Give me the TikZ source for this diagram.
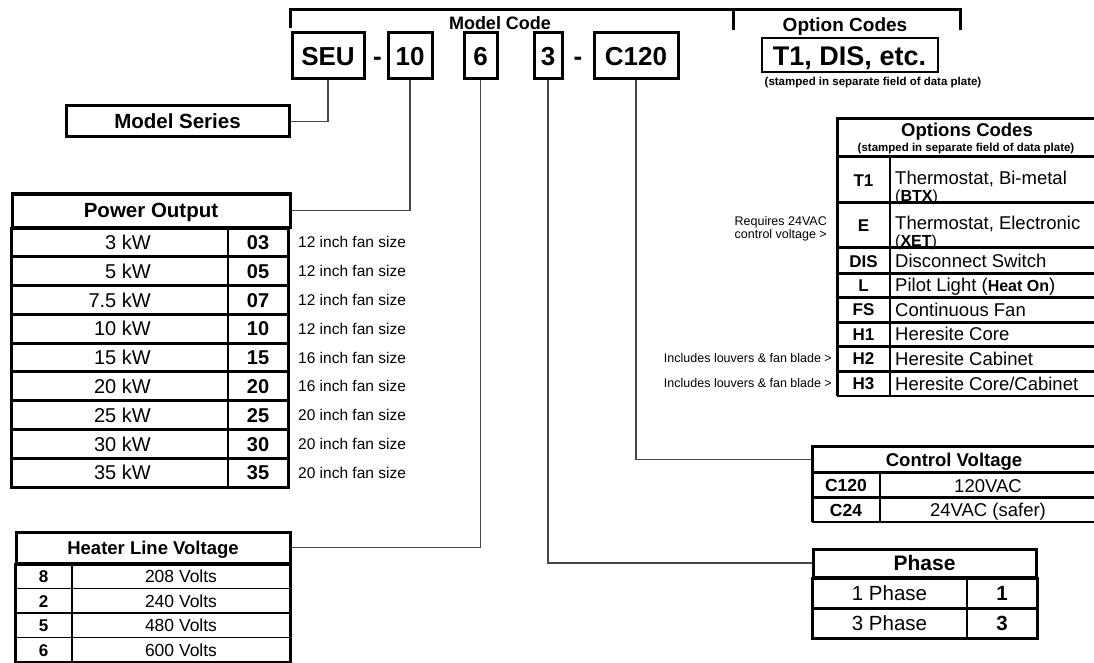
\documentclass[tikz,border=0pt]{standalone}
\usepackage{fontspec}
\setmainfont{Liberation Sans}
\newcommand\fsz[1]{\fontsize{#1}{#1}\selectfont}
\begin{document}
\begin{tikzpicture}[x=1pt,y=-1pt,
  thickb/.style={line width=3pt},
  thinb/.style={line width=1.2pt},
  f/.style={font=\fsz{#1}, text height={0.716*#1pt}, text depth=0pt},
  fb/.style={font=\fsz{#1}\bfseries, text height={0.716*#1pt}, text depth=0pt},
  codebox/.style={draw, line width=3pt, minimum height=46pt, inner sep=0pt, fb=26},
  hdr/.style={draw, line width=3pt, inner sep=0pt},
  conn/.style={draw=black!72, line width=1.4pt},
  txt/.style={inner sep=0pt},
]
\useasboundingbox (0,0) rectangle (1094,663);

% top bracket
\draw[thickb] (290,28) -- (290,10) -- (960,10) -- (960,30);
\draw[thickb] (733,10) -- (733,30);
\node[txt, fb=18] (mc) at (500,23) {Model Code};
\node[txt, fb=19] (oc) at (845,25) {Option Codes};

% code boxes
\node[codebox, minimum width=72pt] (seu) at (328,56) {SEU};
\node[txt, fb=26] (d1) at (377.5,56) {-};
\node[codebox, minimum width=44pt] (pw) at (410,56) {10};
\node[codebox, minimum width=33pt] (hv) at (480.5,56) {6};
\node[codebox, minimum width=28pt] (ph) at (548,56) {3};
\node[txt, fb=26] (d2) at (578,56) {-};
\node[codebox, minimum width=84pt] (cv) at (636,56) {C120};

\node[draw, line width=2pt, minimum width=176pt, minimum height=34pt, inner sep=0pt, fb=27] (ocb) at (849.5,55.5) {T1, DIS, etc.};
\node[txt, fb=11.5] (ocs) at (873,81) {(stamped in separate field of data plate)};

% Model series
\node[hdr, minimum width=223pt, minimum height=31pt, fb=20.5] (ms) at (177.5,121.5) {Model Series};
\draw[conn] (seu.south) |- (ms.east);

% Power output
\node[hdr, minimum width=278pt, minimum height=33pt, fb=20.5] (po) at (151,210.5) {Power Output};
\draw[thickb] (11,228) rectangle (288,487);
\foreach \i in {1,...,8} \draw[thickb] (11,{228+\i*28.78}) -- (288,{228+\i*28.78});
\draw[thinb] (228,228) -- (228,487);
\foreach \k/\c/\s [count=\i from 0] in {3 kW/03/12, 5 kW/05/12, 7.5 kW/07/12, 10 kW/10/12, 15 kW/15/16, 20 kW/20/16, 25 kW/25/20, 30 kW/30/20, 35 kW/35/20} {
  \pgfmathsetmacro\yc{242.4+\i*28.78}
  \node[txt, anchor=east, f=20] (pk\i) at (151,\yc) {\k};
  \node[txt, fb=20] (pc\i) at (258,\yc) {\c};
  \node[txt, anchor=west, f=15.5] (pf\i) at (298,\yc) {\s{} inch fan size};
}
\draw[conn] (pw.south) |- (po.east);

% Heater line voltage
\node[hdr, minimum width=274pt, minimum height=31pt, fb=18.5] (hl) at (153,547.5) {Heater Line Voltage};
\draw[thickb] (15,564) rectangle (290,662);
\foreach \i in {1,2,3} \draw[thinb] (15,{564+\i*24.5}) -- (290,{564+\i*24.5});
\draw[thinb] (72,564) -- (72,662);
\foreach \c/\v [count=\i from 0] in {8/208, 2/240, 5/480, 6/600} {
  \pgfmathsetmacro\yc{576.5+\i*24.5}
  \node[txt, fb=17] (hc\i) at (43.5,\yc) {\c};
  \node[txt, f=17.5] (hvv\i) at (181,\yc) {\v{} Volts};
}
\draw[conn] (hv.south) |- (hl.east);

% Control voltage
\node[hdr, minimum width=284pt, minimum height=26pt, fb=18.5] (cvh) at (954,459.5) {Control Voltage};
\draw[thickb] (812,473) -- (812,522);
\draw[thickb] (812,497.5) -- (1096,497.5);
\draw[thinb] (812,522) -- (1096,522);
\draw[thinb] (880,473) -- (880,522);
\node[txt, fb=17.5] (cva) at (846,485.5) {C120};
\node[txt, f=18.5] (cvb) at (988,485.5) {120VAC};
\node[txt, fb=17.5] (cvc) at (846,510) {C24};
\node[txt, f=18.5] (cvd) at (988,510) {24VAC (safer)};
\draw[conn] (cv.south) |- (cvh.west);

% Phase
\node[hdr, minimum width=223pt, minimum height=28pt, fb=21] (phh) at (924.5,563) {Phase};
\draw[thickb] (812,578) rectangle (1037,638);
\draw[thickb] (812,608) -- (1037,608);
\draw[thinb] (967,578) -- (967,638);
\node[txt, f=20.5] (pa) at (889.5,593) {1 Phase};
\node[txt, fb=20.5] (pb) at (1002,593) {1};
\node[txt, f=20.5] (pcx) at (889.5,623) {3 Phase};
\node[txt, fb=20.5] (pd) at (1002,623) {3};
\draw[conn] (ph.south) |- (phh.west);

% Options codes table
\node[hdr, minimum width=259pt, minimum height=38pt] (och) at (966.5,137.5) {};
\node[txt, fb=18.5] (ocht) at (967,129.5) {Options Codes};
\node[txt, fb=11.5] (ochs) at (966,147) {(stamped in separate field of data plate)};
\draw[thickb] (837,157) -- (837,396);
\foreach \yy in {202,247,273,297,322,346,371} \draw[thickb] (837,\yy) -- (1096,\yy);
\draw[thinb] (837,396) -- (1096,396);
\draw[thinb] (890,157) -- (890,396);
\node[txt, fb=17] (o1) at (863.5,180) {T1};
\node[txt, anchor=west, f=18.5] (o1a) at (895,177.5) {Thermostat, Bi-metal};
\node[txt, anchor=west, f=16] (o1b) at (895,195.5) {(\textbf{BTX})};
\node[txt, fb=17] (o2) at (863.5,225) {E};
\node[txt, anchor=west, f=18.5] (o2a) at (895,222.5) {Thermostat, Electronic};
\node[txt, anchor=west, f=16] (o2b) at (895,240.5) {(\textbf{XET})};
\node[txt, fb=17] (o3) at (863.5,261) {DIS};
\node[txt, anchor=west, f=18.5] (o3a) at (895,261) {Disconnect Switch};
\node[txt, fb=17] (o4) at (863.5,285) {L};
\node[txt, anchor=west, f=18.5] (o4a) at (895,285) {Pilot Light ({\fsz{16}\bfseries Heat On})};
\node[txt, fb=17] (o5) at (863.5,309.5) {FS};
\node[txt, anchor=west, f=18.5] (o5a) at (895,309.5) {Continuous Fan};
\node[txt, fb=17] (o6) at (863.5,334) {H1};
\node[txt, anchor=west, f=18.5] (o6a) at (895,334) {Heresite Core};
\node[txt, fb=17] (o7) at (863.5,358.5) {H2};
\node[txt, anchor=west, f=18.5] (o7a) at (895,358.5) {Heresite Cabinet};
\node[txt, fb=17] (o8) at (863.5,383.5) {H3};
\node[txt, anchor=west, f=18.5] (o8a) at (895,383.5) {Heresite Core/Cabinet};

\node[txt, anchor=east, f=12.5] (req1) at (827,221) {Requires 24VAC};
\node[txt, anchor=east, f=12.5] (req2) at (827,234) {control voltage >};
\node[txt, anchor=east, f=12.5] (inc1) at (832,358.5) {Includes louvers \& fan blade >};
\node[txt, anchor=east, f=12.5] (inc2) at (832,383.5) {Includes louvers \& fan blade >};
\end{tikzpicture}
\end{document}
